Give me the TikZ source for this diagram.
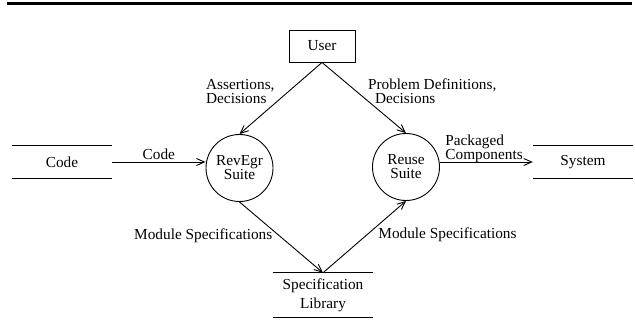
\documentclass[tikz,border=0pt]{standalone}
\usepackage{fontspec}
\setmainfont{Liberation Serif}
\usetikzlibrary{arrows.meta}

\def\lw{0.9pt}
\def\rad{67pt}
\tikzstyle{proc}=[circle,draw,line width=\lw,minimum size=\rad,inner sep=0pt,align=center,font=\fontsize{15.3pt}{14pt}\selectfont]
\tikzstyle{ext}=[rectangle,draw,line width=\lw,minimum width=66pt,minimum height=32pt,inner sep=0pt]
\tikzstyle{store}=[minimum width=100pt,minimum height=32pt,inner sep=0pt,align=center,
  append after command={(\tikzlastnode.north west) edge[-,line width=\lw] (\tikzlastnode.north east)
                        (\tikzlastnode.south west) edge[-,line width=\lw] (\tikzlastnode.south east)}]
\tikzstyle{flow}=[-{Straight Barb[length=8pt,width=7pt]},line width=\lw]
\tikzstyle{lbl}=[align=left,inner sep=2pt]

\begin{document}
\begin{tikzpicture}[x=1pt,y=-1pt,font=\fontsize{15.3pt}{14pt}\selectfont]
			\useasboundingbox (0,0) rectangle (635,321);
			\fill (7,2) rectangle (632,5.5);
			% terminators and processes
			\node[ext](user) at (322,46){User};
			\node[proc](rev) at (239.5,168){RevEgr\\Suite};
			\node[proc](reuse) at (406,167){Reuse\\Suite};
			% data stores
			\node[store](code) at (62,162){Code};
			\node[store](system) at (583,162){System};
			\node[store,minimum height=44pt,font=\fontsize{15.3pt}{19pt}\selectfont](spec) at (323,295){Specification\\Library};
			% flows
			\path[flow](user.south)edge node[lbl,pos=0.4,anchor=east,xshift=-12pt]{Assertions,\\Decisions}(rev.north);
			\path[flow](user.south)edge node[lbl,pos=0.4,anchor=west,xshift=10pt]{Problem Definitions,\\\hspace{7pt}Decisions}(reuse.north);
			\path[flow](code.east)edge node[lbl,above]{Code}(rev.west |- code.east);
			\path[flow](reuse.east |- system.west)edge node[lbl,pos=0,anchor=south west,xshift=3pt,yshift=-3pt]{Packaged\\Components}(system.west);
			\path[flow](rev.south)edge node[lbl,pos=0.47,anchor=east,xshift=-4pt]{Module Specifications}(spec.north);
			\path[flow](spec.north)edge node[lbl,pos=0.53,anchor=west,xshift=9pt]{Module Specifications}(reuse.south);
		\end{tikzpicture}
\end{document}
